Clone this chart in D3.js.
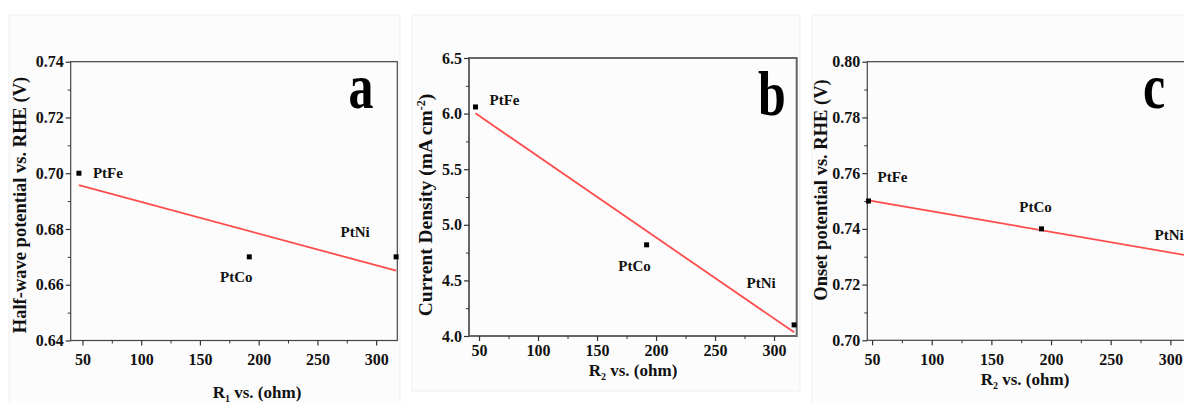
<!DOCTYPE html>
<html lang="en">
<head>
<meta charset="utf-8">
<script src="https://d3js.org/d3.v7.min.js"></script>
<style>
  body { margin: 0; background: #fff; }
  svg { display: block; }
  text { font-family: "Liberation Serif", "Times New Roman", serif; font-weight: bold; fill: #111; }
</style>
</head>
<body>
<svg width="1184" height="403"></svg>
<script>

// data
var samples = ["PtFe", "PtCo", "PtNi"];
var resistance = [47, 192, 317];            // R2 (ohm)
var halfWave = [0.70, 0.67, 0.67];          // V vs RHE
var currentDensity = [6.06, 4.82, 4.10];    // mA cm-2
var onset = [0.75, 0.74, 0.73];             // V vs RHE

var xTicks = [50, 100, 150, 200, 250, 300];
var halfWaveTicks = [0.64, 0.66, 0.68, 0.70, 0.72, 0.74];
var currentTicks = [4.0, 4.5, 5.0, 5.5, 6.0, 6.5];
var onsetTicks = [0.70, 0.72, 0.74, 0.76, 0.78, 0.80];

var svg = d3.select("svg");

// faint panel backgrounds
var backs = [[9, 15, 391, 390], [412, 15, 388, 376], [812, 15, 380, 390]];
svg.selectAll("rect.back")
    .data(backs)
    .enter()
    .append("rect")
    .attr("x", function (d) { return d[0]; })
    .attr("y", function (d) { return d[1]; })
    .attr("width", function (d) { return d[2]; })
    .attr("height", function (d) { return d[3]; })
    .style("fill", "#fcfcfc")
    .style("stroke", "#efefef");

// least squares line through the three points
function fit(xs, ys) {
    var mx = d3.mean(xs), my = d3.mean(ys);
    var sxy = d3.sum(xs, function (x, i) { return (x - mx) * (ys[i] - my); });
    var sxx = d3.sum(xs, function (x) { return (x - mx) * (x - mx); });
    var b = sxy / sxx;
    return function (x) { return my + b * (x - mx); };
}

function panel(o) {
    var x = d3.scaleLinear().domain(o.xDomain).range(o.xRange);
    var y = d3.scaleLinear().domain(o.yDomain).range(o.yRange);
    var g = svg.append("g");

    // frame
    g.append("rect")
        .attr("x", o.xRange[0]).attr("y", o.yRange[1])
        .attr("width", o.xRange[1] - o.xRange[0])
        .attr("height", o.yRange[0] - o.yRange[1])
        .style("fill", "none")
        .style("stroke", o.frameColor)
        .style("stroke-width", o.frameWidth);

    // minor ticks
    var xMinor = xTicks.map(function (t) { return t + 25; }).concat([25]).filter(function (t) { return t > o.xDomain[0] && t < o.xDomain[1]; });
    var step = o.yTicks[1] - o.yTicks[0];
    var yMinor = o.yTicks.slice(0, -1).map(function (t) { return t + step / 2; });

    g.append("g")
        .attr("transform", "translate(0," + o.yRange[0] + ")")
        .call(d3.axisBottom(x).tickValues(xMinor).tickSize(3).tickFormat(""))
        .call(function (a) { a.select(".domain").remove(); a.selectAll("line").style("stroke", "#333"); });
    g.append("g")
        .attr("transform", "translate(" + o.xRange[0] + ",0)")
        .call(d3.axisLeft(y).tickValues(yMinor).tickSize(3).tickFormat(""))
        .call(function (a) { a.select(".domain").remove(); a.selectAll("line").style("stroke", "#333"); });

    // major ticks
    var xa = g.append("g")
        .attr("transform", "translate(0," + o.yRange[0] + ")")
        .call(d3.axisBottom(x).tickValues(xTicks).tickSize(5).tickPadding(o.xPad).tickFormat(d3.format("d")));
    var ya = g.append("g")
        .attr("transform", "translate(" + o.xRange[0] + ",0)")
        .call(d3.axisLeft(y).tickValues(o.yTicks).tickSize(5).tickPadding(2).tickFormat(d3.format(o.yFormat)));
    [xa, ya].forEach(function (a) {
        a.select(".domain").remove();
        a.selectAll("line").style("stroke", "#333").style("stroke-width", 1.2);
        a.selectAll("text")
            .style("font-family", "'Liberation Serif', serif")
            .style("font-weight", "bold")
            .style("font-size", "16px")
            .style("fill", "#111");
    });

    // fitted line
    var f = fit(resistance, o.values);
    var ends = [resistance[0], resistance[resistance.length - 1]];
    g.append("path")
        .datum(ends)
        .attr("d", d3.line().x(function (d) { return x(d); }).y(function (d) { return y(f(d)); }))
        .style("fill", "none")
        .style("stroke", "#ff4b4b")
        .style("stroke-width", 1.8);

    // points
    g.selectAll("rect.pt")
        .data(o.values)
        .enter()
        .append("rect")
        .attr("x", function (d, i) { return x(resistance[i]) - 2.5; })
        .attr("y", function (d) { return y(d) - 2.5; })
        .attr("width", 5).attr("height", 5)
        .style("fill", "#000");

    // sample labels
    g.selectAll("text.lbl")
        .data(o.values)
        .enter()
        .append("text")
        .attr("x", function (d, i) { return x(resistance[i]) + o.labelOff[i][0]; })
        .attr("y", function (d, i) { return y(d) + o.labelOff[i][1]; })
        .attr("dy", "0.35em")
        .attr("text-anchor", function (d, i) { return o.labelOff[i][2]; })
        .style("font-size", "15px")
        .text(function (d, i) { return samples[i]; });

    // panel letter
    g.append("text")
        .attr("transform", "translate(" + o.letterPos[0] + "," + o.letterPos[1] + ") scale(0.78,1)")
        .attr("text-anchor", "middle")
        .style("font-size", "64px")
        .style("fill", "#000")
        .text(o.letter);

    // x title
    var xt = g.append("text")
        .attr("x", o.xTitlePos[0]).attr("y", o.xTitlePos[1])
        .attr("text-anchor", "middle")
        .style("font-size", "17px");
    xt.append("tspan").text("R");
    xt.append("tspan").attr("dy", 4).style("font-size", "10px").text(o.sub);
    xt.append("tspan").attr("dy", -4).text(" vs. (ohm)");

    // y title
    var yt = g.append("text")
        .attr("transform", "translate(" + o.yTitlePos[0] + "," + o.yTitlePos[1] + ") rotate(-90)")
        .attr("text-anchor", "middle")
        .style("font-size", o.yTitleSize);
    o.yTitle.forEach(function (p) {
        var s = yt.append("tspan").text(p.t);
        if (p.dy) s.attr("dy", p.dy);
        if (p.size) s.style("font-size", p.size);
    });
}

panel({
    values: halfWave, yTicks: halfWaveTicks, yFormat: ".2f",
    xDomain: [40, 318], xRange: [70.7, 397.3],
    yDomain: [0.64, 0.74], yRange: [340.5, 61.7],
    frameColor: "#444", frameWidth: 1.2, xPad: 8,
    labelOff: [[14, 0, "start"], [-13, 20, "middle"], [-41, -25, "middle"]],
    letter: "a", letterPos: [361, 108],
    sub: "1", xTitlePos: [257, 398],
    yTitlePos: [26, 205], yTitleSize: "18.5px",
    yTitle: [{ t: "Half-wave potential vs. RHE (V)" }]
});

panel({
    values: currentDensity, yTicks: currentTicks, yFormat: ".1f",
    xDomain: [41.5, 319.2], xRange: [469, 796.7],
    yDomain: [4.0, 6.5], yRange: [336, 58],
    frameColor: "#666", frameWidth: 2, xPad: 4,
    labelOff: [[14, -7, "start"], [-12, 21, "middle"], [-33, -42, "middle"]],
    letter: "b", letterPos: [772, 115],
    sub: "2", xTitlePos: [633, 376],
    yTitlePos: [432, 205], yTitleSize: "19.5px",
    yTitle: [{ t: "Current Density (mA cm" }, { t: "-2", dy: -7, size: "12px" }, { t: ")", dy: 7 }]
});

panel({
    values: onset, yTicks: onsetTicks, yFormat: ".2f",
    xDomain: [46, 320], xRange: [867.3, 1194.2],
    yDomain: [0.70, 0.80], yRange: [340.3, 61.7],
    frameColor: "#444", frameWidth: 1.2, xPad: 8,
    labelOff: [[9, -24, "start"], [-6, -22, "middle"], [-36, -22, "start"]],
    letter: "c", letterPos: [1154, 108],
    sub: "2", xTitlePos: [1025, 385],
    yTitlePos: [827, 190], yTitleSize: "18.5px",
    yTitle: [{ t: "Onset potential vs. RHE (V)" }]
});

</script>
</body>
</html>
